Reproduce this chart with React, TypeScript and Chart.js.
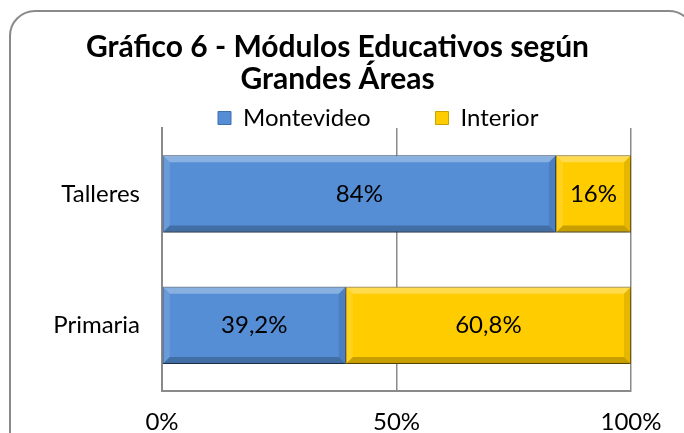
import React, { useEffect, useRef } from "react";
import { Chart, registerables } from "chart.js";

Chart.register(...registerables);

const categories = ["Talleres", "Primaria"];
const seriesNames = ["Montevideo", "Interior"];
const montevideo = [84, 39.2];
const interior = [16, 60.8];
const xTickValues = [0, 50, 100];
const titleLines = ["Gráfico 6 - Módulos Educativos según", "Grandes Áreas"];

const FONT = "Lato, 'Open Sans', sans-serif";
const BLUE = "#558ED5";
const YELLOW = "#FFCC00";

const fmtPct = (v: number) => String(v).replace(".", ",") + "%";

const framePlugin = {
  id: "frame",
  beforeDraw(chart: any) {
    const ctx = chart.ctx;
    ctx.save();
    ctx.fillStyle = "#ffffff";
    ctx.fillRect(0, 0, chart.width, chart.height);
    const x = 10, y = 11, w = 684, h = 460, r = 25;
    ctx.beginPath();
    ctx.moveTo(x + r, y);
    ctx.lineTo(x + w - r, y);
    ctx.arcTo(x + w, y, x + w, y + r, r);
    ctx.lineTo(x + w, y + h);
    ctx.lineTo(x, y + h);
    ctx.lineTo(x, y + r);
    ctx.arcTo(x, y, x + r, y, r);
    ctx.closePath();
    ctx.strokeStyle = "#8a8a8a";
    ctx.lineWidth = 2;
    ctx.stroke();
    ctx.restore();
  },
};

const placePlugin = {
  id: "place",
  afterLayout(chart: any) {
    const lg = chart.legend;
    if (lg) {
      lg.top = 41;
      lg.bottom = 140;
      lg.height = lg.bottom - lg.top;
      lg.left = 153;
      lg.right = chart.width;
      lg.width = lg.right - lg.left;
    }
    const tt = chart.titleBlock;
    if (tt) {
      tt.left = 0;
      tt.right = 675;
      tt.width = 675;
    }
  },
};

const barDecorPlugin = {
  id: "barDecor",
  beforeDatasetsDraw(chart: any) {
    const ctx = chart.ctx;
    ctx.save();
    ctx.shadowColor = "rgba(0,0,0,0.35)";
    ctx.shadowBlur = 6;
    ctx.shadowOffsetY = 4;
  },
  afterDatasetsDraw(chart: any) {
    const ctx = chart.ctx;
    ctx.restore();
    ctx.save();
    chart.data.datasets.forEach((ds: any, di: number) => {
      const meta = chart.getDatasetMeta(di);
      meta.data.forEach((el: any, i: number) => {
        const p = el.getProps(["x", "y", "base", "height"], true);
        const l = Math.min(p.x, p.base);
        const r = Math.max(p.x, p.base);
        const t = p.y - p.height / 2;
        const b = p.y + p.height / 2;
        const s = 7;
        const poly = (pts: number[][], color: string) => {
          ctx.beginPath();
          ctx.moveTo(pts[0][0], pts[0][1]);
          for (let k = 1; k < pts.length; k++) ctx.lineTo(pts[k][0], pts[k][1]);
          ctx.closePath();
          ctx.fillStyle = color;
          ctx.fill();
        };
        poly([[l, t], [r, t], [r - s, t + s], [l + s, t + s]], "rgba(255,255,255,0.30)");
        poly([[l, t], [l + s, t + s], [l + s, b - s], [l, b]], "rgba(255,255,255,0.12)");
        poly([[r, t], [r, b], [r - s, b - s], [r - s, t + s]], "rgba(0,0,0,0.10)");
        poly([[l, b], [l + s, b - s], [r - s, b - s], [r, b]], "rgba(0,0,0,0.22)");
        ctx.strokeStyle = "rgba(0,0,0,0.25)";
        ctx.lineWidth = 1;
        ctx.strokeRect(l + 0.5, t + 0.5, r - l - 1, b - t - 1);

        const v = ds.data[i];
        ctx.fillStyle = "#000000";
        ctx.font = `24px ${FONT}`;
        ctx.textAlign = "center";
        ctx.textBaseline = "middle";
        ctx.fillText(fmtPct(v), (l + r) / 2, p.y);
      });
    });
    ctx.restore();
  },
};

export default function App() {
  const ref = useRef<HTMLCanvasElement | null>(null);

  useEffect(() => {
    if (!ref.current) return;
    const chart = new Chart(ref.current, {
      type: "bar",
      data: {
        labels: categories,
        datasets: [
          {
            label: seriesNames[0],
            data: montevideo,
            backgroundColor: BLUE,
            borderColor: "#3f6fae",
            borderWidth: 1,
            barPercentage: 1,
            categoryPercentage: 0.588,
          },
          {
            label: seriesNames[1],
            data: interior,
            backgroundColor: YELLOW,
            borderColor: "#c9a000",
            borderWidth: 1,
            barPercentage: 1,
            categoryPercentage: 0.588,
          },
        ],
      },
      options: {
        indexAxis: "y",
        responsive: false,
        animation: false,
        layout: { padding: { top: 0, left: 0, right: 53, bottom: 0 } },
        scales: {
          x: {
            stacked: true,
            min: 0,
            max: 100,
            afterBuildTicks: (scale: any) => {
              scale.ticks = xTickValues.map((v) => ({ value: v }));
            },
            afterFit: (scale: any) => {
              scale.height = 42;
            },
            ticks: {
              callback: (v: any) => v + "%",
              color: "#000000",
              font: { family: FONT, size: 24 },
              padding: 17,
              maxRotation: 0,
            },
            grid: { display: true, color: "#8a8a8a", lineWidth: 1.5, drawTicks: false },
            border: { display: true, color: "#8a8a8a", width: 2 },
          },
          y: {
            stacked: true,
            afterFit: (scale: any) => {
              scale.width = 162;
            },
            ticks: {
              color: "#000000",
              font: { family: FONT, size: 24 },
              padding: 22,
            },
            grid: { display: false, drawTicks: false },
            border: { display: true, color: "#8a8a8a", width: 2 },
          },
        },
        plugins: {
          title: {
            display: true,
            text: titleLines,
            color: "#000000",
            font: { family: FONT, size: 30, weight: "bold", lineHeight: 1.085 },
            padding: { top: 31, bottom: 0 },
          },
          legend: {
            display: true,
            position: "top",
            align: "start",
            maxHeight: 32,
            labels: {
              color: "#000000",
              font: { family: FONT, size: 24 },
              boxWidth: 13,
              boxHeight: 13,
              padding: 65,
            },
          },
          tooltip: { enabled: false },
        },
      },
      plugins: [framePlugin, placePlugin, barDecorPlugin],
    } as any);
    return () => chart.destroy();
  }, []);

  return (
    <div style={{ position: "absolute", left: 0, top: 0, width: 684, height: 433 }}>
      <canvas ref={ref} width={684} height={433} style={{ width: 684, height: 433 }} />
    </div>
  );
}
